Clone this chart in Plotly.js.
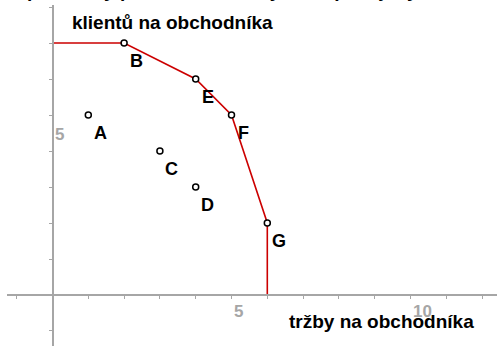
<!DOCTYPE html>
<html>
<head>
<meta charset="utf-8">
<script src="https://cdn.plot.ly/plotly-3.0.1.min.js"></script>
<style>
  html, body { margin: 0; padding: 0; background: #fff; }
  #chart { width: 497px; height: 346px; }
</style>
</head>
<body>
<div id="chart"></div>
<script>
// Named points (sales per salesperson vs. clients per salesperson)
const pointNames = ['A', 'B', 'C', 'D', 'E', 'F', 'G'];
const pointX = [1, 2, 3, 4, 4, 5, 6];
const pointY = [5, 7, 4, 3, 6, 5, 2];

// Frontier polyline
const frontierX = [0, 2, 4, 5, 6, 6];
const frontierY = [7, 7, 6, 5, 2, 0];

// Axis tick labels
const xTickVals = [5, 10];
const yTickVals = [5];

const xTitle = 'tržby na obchodníka';
const yTitleLines = ['průměrný počet obsloužených a spokojených', 'klientů na obchodníka'];

const xRange = [-1.271, 12.416];
const yRange = [-1.417, 8.056];
const axisGray = '#a6a6a6';
const labelFont = { family: 'Liberation Sans, Arial, sans-serif', size: 18, color: '#000' };
const titleFont = { family: 'Liberation Sans, Arial, sans-serif', size: 19, color: '#000' };
const tickFont = { family: 'Liberation Sans, Arial, sans-serif', size: 17, color: '#a6a6a6' };

const traces = [
  {
    x: frontierX, y: frontierY, type: 'scatter', mode: 'lines',
    line: { color: '#cc0000', width: 1.6 }, hoverinfo: 'skip', showlegend: false
  },
  {
    x: pointX, y: pointY, type: 'scatter', mode: 'markers',
    marker: { symbol: 'circle', size: 6, color: '#ffffff', line: { color: '#000', width: 1.5 } },
    showlegend: false
  }
];

const annotations = [];
pointNames.forEach((n, i) => {
  annotations.push({
    x: pointX[i], y: pointY[i], xref: 'x', yref: 'y', text: '<b>' + n + '</b>',
    showarrow: false, xshift: 12, yshift: -18, font: labelFont
  });
});
xTickVals.forEach(v => {
  annotations.push({
    x: v, y: 0, xref: 'x', yref: 'y', text: '<b>' + v + '</b>', showarrow: false,
    xshift: 7 + (v >= 10 ? 5 : 0), yshift: -17, font: tickFont
  });
});
yTickVals.forEach(v => {
  annotations.push({
    x: 0, y: v, xref: 'x', yref: 'y', text: '<b>' + v + '</b>', showarrow: false,
    xshift: 7, yshift: -19, font: tickFont
  });
});
annotations.push({
  x: 6.55, y: -0.75, xref: 'x', yref: 'y', xanchor: 'left', yanchor: 'middle',
  text: '<b>' + xTitle + '</b>', showarrow: false, font: titleFont
});
annotations.push({
  x: 0.50, y: 7.58, xref: 'x', yref: 'y', xanchor: 'left', yanchor: 'middle',
  text: '<b>' + yTitleLines[1] + '</b>', showarrow: false, font: titleFont
});
// first line of the vertical-axis caption sits mostly above the top edge
annotations.push({
  x: 0.50, y: 7.58, xref: 'x', yref: 'y', xanchor: 'left', yanchor: 'middle',
  xshift: -45, yshift: 32,
  text: '<b>' + yTitleLines[0] + '</b>', showarrow: false, font: titleFont
});

const xPos = (0 - yRange[0]) / (yRange[1] - yRange[0]);
const yPos = (0 - xRange[0]) / (xRange[1] - xRange[0]);

const layout = {
  width: 497, height: 346,
  margin: { l: 7, r: 0, t: 5, b: 0, pad: 0 },
  paper_bgcolor: '#fff', plot_bgcolor: '#fff',
  showlegend: false,
  xaxis: {
    range: xRange, showgrid: false, zeroline: false,
    anchor: 'free', position: xPos,
    showline: true, linecolor: axisGray, linewidth: 2,
    ticks: 'outside', ticklen: 3, tickwidth: 1, tickcolor: axisGray,
    dtick: 1, tick0: 0, showticklabels: false
  },
  yaxis: {
    range: yRange, showgrid: false, zeroline: false,
    anchor: 'free', position: yPos,
    showline: true, linecolor: axisGray, linewidth: 2,
    ticks: 'outside', ticklen: 3, tickwidth: 1, tickcolor: axisGray,
    dtick: 1, tick0: 0, showticklabels: false
  },
  annotations: annotations
};

Plotly.newPlot('chart', traces, layout, { displayModeBar: false, staticPlot: true });
</script>
</body>
</html>
